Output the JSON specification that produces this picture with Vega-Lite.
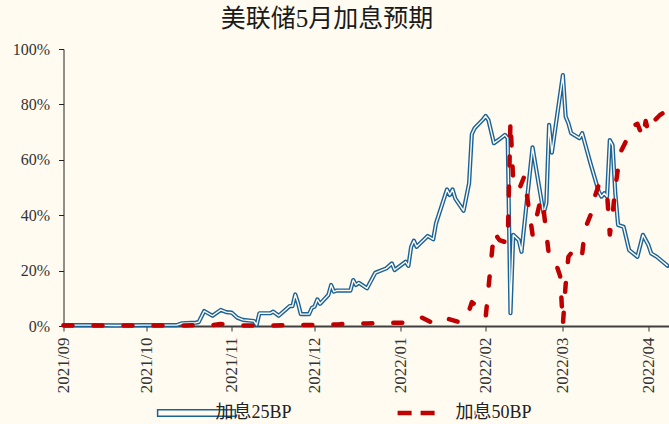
{
  "$schema": "https://vega.github.io/schema/vega-lite/v6.json",
  "width": 607,
  "height": 277,
  "autosize": {"type": "none"},
  "padding": {"left": 63.5, "top": 49, "right": 0, "bottom": 98},
  "background": "#FFFBF0",
  "title": {
    "text": "美联储5月加息预期",
    "font": "Liberation Serif, Noto Sans CJK SC",
    "fontSize": 25,
    "fontWeight": "normal",
    "color": "#1a1a1a",
    "anchor": "middle",
    "frame": "group",
    "dx": -40,
    "offset": 9
  },
  "data": {
    "values": [
      {"d": "2021-09-01", "s": "加息25BP", "v": 0.3},
      {"d": "2021-09-10", "s": "加息25BP", "v": 0.3},
      {"d": "2021-09-20", "s": "加息25BP", "v": 0.2},
      {"d": "2021-09-30", "s": "加息25BP", "v": 0.3},
      {"d": "2021-10-08", "s": "加息25BP", "v": 0.3},
      {"d": "2021-10-12", "s": "加息25BP", "v": 0.3},
      {"d": "2021-10-14", "s": "加息25BP", "v": 1.0},
      {"d": "2021-10-19", "s": "加息25BP", "v": 1.2},
      {"d": "2021-10-20", "s": "加息25BP", "v": 1.4},
      {"d": "2021-10-22", "s": "加息25BP", "v": 5.4},
      {"d": "2021-10-25", "s": "加息25BP", "v": 3.7},
      {"d": "2021-10-28", "s": "加息25BP", "v": 5.8},
      {"d": "2021-10-30", "s": "加息25BP", "v": 5.0},
      {"d": "2021-11-01", "s": "加息25BP", "v": 4.8},
      {"d": "2021-11-03", "s": "加息25BP", "v": 3.0},
      {"d": "2021-11-05", "s": "加息25BP", "v": 2.2},
      {"d": "2021-11-09", "s": "加息25BP", "v": 1.8},
      {"d": "2021-11-10", "s": "加息25BP", "v": 0.4},
      {"d": "2021-11-11", "s": "加息25BP", "v": 4.6},
      {"d": "2021-11-15", "s": "加息25BP", "v": 4.6},
      {"d": "2021-11-16", "s": "加息25BP", "v": 5.2},
      {"d": "2021-11-18", "s": "加息25BP", "v": 3.7},
      {"d": "2021-11-22", "s": "加息25BP", "v": 7.2},
      {"d": "2021-11-23", "s": "加息25BP", "v": 7.2},
      {"d": "2021-11-24", "s": "加息25BP", "v": 11.4},
      {"d": "2021-11-25", "s": "加息25BP", "v": 8.3},
      {"d": "2021-11-26", "s": "加息25BP", "v": 4.3},
      {"d": "2021-11-29", "s": "加息25BP", "v": 4.3},
      {"d": "2021-11-30", "s": "加息25BP", "v": 6.5},
      {"d": "2021-12-01", "s": "加息25BP", "v": 7.0},
      {"d": "2021-12-02", "s": "加息25BP", "v": 9.6},
      {"d": "2021-12-03", "s": "加息25BP", "v": 8.0},
      {"d": "2021-12-06", "s": "加息25BP", "v": 11.2},
      {"d": "2021-12-07", "s": "加息25BP", "v": 14.8},
      {"d": "2021-12-08", "s": "加息25BP", "v": 12.4},
      {"d": "2021-12-09", "s": "加息25BP", "v": 12.8},
      {"d": "2021-12-14", "s": "加息25BP", "v": 12.8},
      {"d": "2021-12-15", "s": "加息25BP", "v": 16.6},
      {"d": "2021-12-16", "s": "加息25BP", "v": 14.8},
      {"d": "2021-12-17", "s": "加息25BP", "v": 15.6},
      {"d": "2021-12-20", "s": "加息25BP", "v": 13.6},
      {"d": "2021-12-23", "s": "加息25BP", "v": 19.2},
      {"d": "2021-12-27", "s": "加息25BP", "v": 20.8},
      {"d": "2021-12-29", "s": "加息25BP", "v": 22.6},
      {"d": "2021-12-30", "s": "加息25BP", "v": 20.2},
      {"d": "2022-01-03", "s": "加息25BP", "v": 23.2},
      {"d": "2022-01-04", "s": "加息25BP", "v": 21.7},
      {"d": "2022-01-05", "s": "加息25BP", "v": 28.6},
      {"d": "2022-01-06", "s": "加息25BP", "v": 30.8},
      {"d": "2022-01-07", "s": "加息25BP", "v": 28.6},
      {"d": "2022-01-11", "s": "加息25BP", "v": 32.5},
      {"d": "2022-01-13", "s": "加息25BP", "v": 31.3},
      {"d": "2022-01-14", "s": "加息25BP", "v": 37.0},
      {"d": "2022-01-18", "s": "加息25BP", "v": 49.3},
      {"d": "2022-01-19", "s": "加息25BP", "v": 47.3},
      {"d": "2022-01-20", "s": "加息25BP", "v": 49.3},
      {"d": "2022-01-21", "s": "加息25BP", "v": 46.0},
      {"d": "2022-01-24", "s": "加息25BP", "v": 41.6},
      {"d": "2022-01-26", "s": "加息25BP", "v": 51.5},
      {"d": "2022-01-27", "s": "加息25BP", "v": 69.3},
      {"d": "2022-01-28", "s": "加息25BP", "v": 71.4},
      {"d": "2022-01-31", "s": "加息25BP", "v": 74.5},
      {"d": "2022-02-01", "s": "加息25BP", "v": 75.8},
      {"d": "2022-02-02", "s": "加息25BP", "v": 74.4},
      {"d": "2022-02-04", "s": "加息25BP", "v": 66.0},
      {"d": "2022-02-06", "s": "加息25BP", "v": 67.4},
      {"d": "2022-02-08", "s": "加息25BP", "v": 69.0},
      {"d": "2022-02-09", "s": "加息25BP", "v": 67.8},
      {"d": "2022-02-10", "s": "加息25BP", "v": 4.6},
      {"d": "2022-02-11", "s": "加息25BP", "v": 32.9},
      {"d": "2022-02-13", "s": "加息25BP", "v": 31.0},
      {"d": "2022-02-14", "s": "加息25BP", "v": 26.8},
      {"d": "2022-02-18", "s": "加息25BP", "v": 64.5},
      {"d": "2022-02-22", "s": "加息25BP", "v": 40.7},
      {"d": "2022-02-23", "s": "加息25BP", "v": 44.3},
      {"d": "2022-02-24", "s": "加息25BP", "v": 72.6},
      {"d": "2022-02-25", "s": "加息25BP", "v": 62.6},
      {"d": "2022-03-01", "s": "加息25BP", "v": 90.6},
      {"d": "2022-03-02", "s": "加息25BP", "v": 75.6},
      {"d": "2022-03-03", "s": "加息25BP", "v": 73.2},
      {"d": "2022-03-04", "s": "加息25BP", "v": 69.6},
      {"d": "2022-03-07", "s": "加息25BP", "v": 67.8},
      {"d": "2022-03-08", "s": "加息25BP", "v": 69.6},
      {"d": "2022-03-11", "s": "加息25BP", "v": 58.7},
      {"d": "2022-03-14", "s": "加息25BP", "v": 48.5},
      {"d": "2022-03-15", "s": "加息25BP", "v": 46.7},
      {"d": "2022-03-16", "s": "加息25BP", "v": 47.9},
      {"d": "2022-03-17", "s": "加息25BP", "v": 46.7},
      {"d": "2022-03-18", "s": "加息25BP", "v": 67.1},
      {"d": "2022-03-19", "s": "加息25BP", "v": 65.3},
      {"d": "2022-03-20", "s": "加息25BP", "v": 47.9},
      {"d": "2022-03-21", "s": "加息25BP", "v": 36.5},
      {"d": "2022-03-23", "s": "加息25BP", "v": 35.8},
      {"d": "2022-03-25", "s": "加息25BP", "v": 27.4},
      {"d": "2022-03-28", "s": "加息25BP", "v": 25.0},
      {"d": "2022-03-30", "s": "加息25BP", "v": 32.9},
      {"d": "2022-04-01", "s": "加息25BP", "v": 29.2},
      {"d": "2022-04-02", "s": "加息25BP", "v": 26.2},
      {"d": "2022-04-04", "s": "加息25BP", "v": 25.0},
      {"d": "2022-04-08", "s": "加息25BP", "v": 21.7},

      {"d": "2021-09-01", "s": "加息50BP", "v": 0.2},
      {"d": "2021-09-15", "s": "加息50BP", "v": 0.2},
      {"d": "2021-10-01", "s": "加息50BP", "v": 0.2},
      {"d": "2021-10-15", "s": "加息50BP", "v": 0.2},
      {"d": "2021-10-25", "s": "加息50BP", "v": 0.3},
      {"d": "2021-10-28", "s": "加息50BP", "v": 0.7},
      {"d": "2021-11-01", "s": "加息50BP", "v": 0.5},
      {"d": "2021-11-05", "s": "加息50BP", "v": 0.2},
      {"d": "2021-11-15", "s": "加息50BP", "v": 0.2},
      {"d": "2021-11-25", "s": "加息50BP", "v": 0.3},
      {"d": "2021-12-01", "s": "加息50BP", "v": 0.4},
      {"d": "2021-12-10", "s": "加息50BP", "v": 0.6},
      {"d": "2021-12-15", "s": "加息50BP", "v": 1.0},
      {"d": "2021-12-20", "s": "加息50BP", "v": 0.9},
      {"d": "2021-12-27", "s": "加息50BP", "v": 1.1},
      {"d": "2022-01-03", "s": "加息50BP", "v": 1.2},
      {"d": "2022-01-06", "s": "加息50BP", "v": 1.3},
      {"d": "2022-01-09", "s": "加息50BP", "v": 3.0},
      {"d": "2022-01-13", "s": "加息50BP", "v": 1.0},
      {"d": "2022-01-15", "s": "加息50BP", "v": 1.5},
      {"d": "2022-01-17", "s": "加息50BP", "v": 3.0},
      {"d": "2022-01-23", "s": "加息50BP", "v": 1.2},
      {"d": "2022-01-25", "s": "加息50BP", "v": 2.5},
      {"d": "2022-01-27", "s": "加息50BP", "v": 8.6},
      {"d": "2022-01-29", "s": "加息50BP", "v": 7.0},
      {"d": "2022-02-01", "s": "加息50BP", "v": 3.0},
      {"d": "2022-02-04", "s": "加息50BP", "v": 34.0},
      {"d": "2022-02-06", "s": "加息50BP", "v": 31.0},
      {"d": "2022-02-09", "s": "加息50BP", "v": 30.0},
      {"d": "2022-02-10", "s": "加息50BP", "v": 74.0},
      {"d": "2022-02-11", "s": "加息50BP", "v": 52.0},
      {"d": "2022-02-13", "s": "加息50BP", "v": 49.0},
      {"d": "2022-02-15", "s": "加息50BP", "v": 54.0},
      {"d": "2022-02-18", "s": "加息50BP", "v": 33.0},
      {"d": "2022-02-21", "s": "加息50BP", "v": 46.0},
      {"d": "2022-02-22", "s": "加息50BP", "v": 42.0},
      {"d": "2022-02-24", "s": "加息50BP", "v": 25.0},
      {"d": "2022-02-26", "s": "加息50BP", "v": 24.0},
      {"d": "2022-02-28", "s": "加息50BP", "v": 18.0},
      {"d": "2022-03-01", "s": "加息50BP", "v": 0.5},
      {"d": "2022-03-02", "s": "加息50BP", "v": 15.0},
      {"d": "2022-03-03", "s": "加息50BP", "v": 25.0},
      {"d": "2022-03-06", "s": "加息50BP", "v": 29.0},
      {"d": "2022-03-08", "s": "加息50BP", "v": 26.0},
      {"d": "2022-03-09", "s": "加息50BP", "v": 35.0},
      {"d": "2022-03-11", "s": "加息50BP", "v": 40.0},
      {"d": "2022-03-12", "s": "加息50BP", "v": 45.0},
      {"d": "2022-03-14", "s": "加息50BP", "v": 51.0},
      {"d": "2022-03-16", "s": "加息50BP", "v": 50.0},
      {"d": "2022-03-17", "s": "加息50BP", "v": 48.0},
      {"d": "2022-03-18", "s": "加息50BP", "v": 33.0},
      {"d": "2022-03-19", "s": "加息50BP", "v": 40.0},
      {"d": "2022-03-20", "s": "加息50BP", "v": 50.0},
      {"d": "2022-03-21", "s": "加息50BP", "v": 57.0},
      {"d": "2022-03-22", "s": "加息50BP", "v": 63.0},
      {"d": "2022-03-24", "s": "加息50BP", "v": 67.0},
      {"d": "2022-03-26", "s": "加息50BP", "v": 72.0},
      {"d": "2022-03-28", "s": "加息50BP", "v": 73.0},
      {"d": "2022-03-30", "s": "加息50BP", "v": 68.0},
      {"d": "2022-03-31", "s": "加息50BP", "v": 74.0},
      {"d": "2022-04-01", "s": "加息50BP", "v": 70.0},
      {"d": "2022-04-03", "s": "加息50BP", "v": 74.0},
      {"d": "2022-04-05", "s": "加息50BP", "v": 76.0},
      {"d": "2022-04-08", "s": "加息50BP", "v": 78.0}
    ]
  },
  "encoding": {
    "x": {
      "field": "d",
      "type": "temporal",
      "scale": {
        "type": "utc",
        "domain": [
          {"year": 2021, "month": 9, "date": 1, "utc": true},
          {"year": 2022, "month": 4, "date": 9, "utc": true}
        ]
      },
      "axis": {
        "title": null,
        "grid": false,
        "values": [
          {"year": 2021, "month": 9, "date": 1, "utc": true},
          {"year": 2021, "month": 10, "date": 1, "utc": true},
          {"year": 2021, "month": 11, "date": 1, "utc": true},
          {"year": 2021, "month": 12, "date": 1, "utc": true},
          {"year": 2022, "month": 1, "date": 1, "utc": true},
          {"year": 2022, "month": 2, "date": 1, "utc": true},
          {"year": 2022, "month": 3, "date": 1, "utc": true},
          {"year": 2022, "month": 4, "date": 1, "utc": true}
        ],
        "format": "%Y/%m",
        "labelAngle": -90,
        "labelPadding": 6,
        "labelFont": "Liberation Serif",
        "labelFontSize": 17,
        "labelColor": "#333333",
        "domainColor": "#404040",
        "domainWidth": 2,
        "tickColor": "#333333",
        "tickSize": 5,
        "labelOverlap": false
      }
    },
    "y": {
      "field": "v",
      "type": "quantitative",
      "scale": {"domain": [0, 100]},
      "axis": {
        "title": null,
        "grid": false,
        "values": [0, 20, 40, 60, 80, 100],
        "labelExpr": "datum.value + '%'",
        "labelPadding": 9,
        "labelFont": "Liberation Serif",
        "labelFontSize": 16,
        "labelColor": "#333333",
        "domainColor": "#222222",
        "tickColor": "#222222",
        "tickSize": 5
      }
    }
  },
  "layer": [
    {
      "transform": [{"filter": "datum.s === '加息25BP'"}],
      "mark": {"type": "line", "strokeWidth": 4.2, "strokeJoin": "round", "strokeCap": "round"},
      "encoding": {
        "color": {
          "field": "s",
          "type": "nominal",
          "scale": {"domain": ["加息25BP", "加息50BP"], "range": ["#1B6297", "#C00000"]},
          "legend": {
            "orient": "none",
            "legendX": 124,
            "legendY": 355,
            "direction": "horizontal",
            "title": null,
            "symbolSize": 6050,
            "symbolType": "stroke",
            "labelFont": "Liberation Serif, Noto Sans CJK SC",
            "labelFontSize": 18,
            "labelColor": "#222222",
            "labelOffset": 10,
            "columnPadding": 96,
            "encode": {
              "symbols": {
                "update": {
                  "shape": {"signal": "datum.value === '加息25BP' ? 'M-1,-0.085H1V0.085H-1Z' : 'stroke'"},
                  "fill": {"signal": "datum.value === '加息25BP' ? '#FFFBF0' : 'transparent'"},
                  "strokeWidth": {"signal": "datum.value === '加息25BP' ? 1.5 : 4.5"},
                  "strokeDash": {"signal": "datum.value === '加息25BP' ? [1, 0] : [14, 9, 14, 40]"}
                }
              }
            }
          }
        }
      }
    },
    {
      "transform": [{"filter": "datum.s === '加息25BP'"}],
      "mark": {"type": "line", "strokeWidth": 1.4, "color": "#FFFBF0", "strokeJoin": "round"},
      "encoding": {}
    },
    {
      "transform": [{"filter": "datum.s === '加息50BP'"}],
      "mark": {"type": "line", "strokeWidth": 4.5, "strokeDash": [9, 21], "strokeCap": "round", "strokeJoin": "round"},
      "encoding": {
        "color": {"field": "s", "type": "nominal"}
      }
    }
  ],
  "config": {
    "view": {"stroke": null}
  }
}
